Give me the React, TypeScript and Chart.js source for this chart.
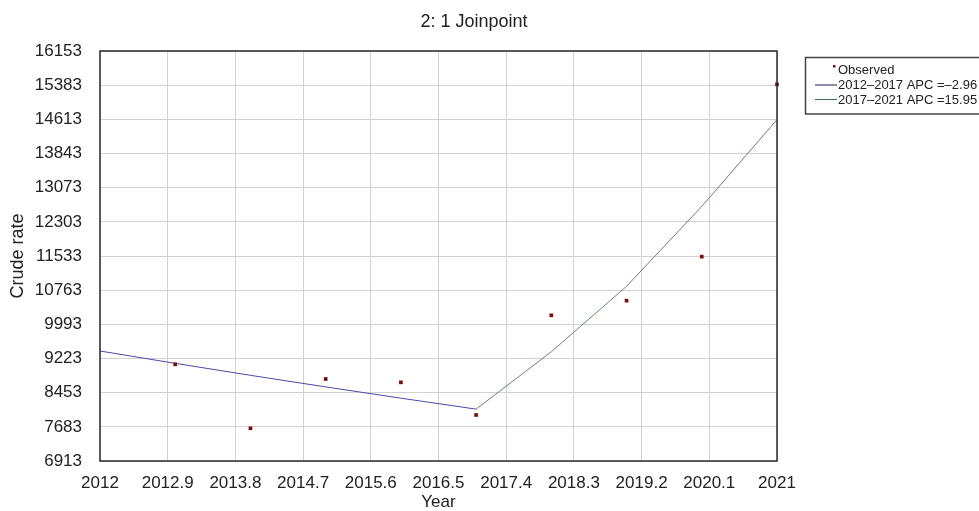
import { useEffect, useRef } from 'react';
import { Chart, registerables } from 'chart.js';

Chart.register(...registerables);

const chartTitle = '2: 1 Joinpoint';
const xTicks = [2012, 2012.9, 2013.8, 2014.7, 2015.6, 2016.5, 2017.4, 2018.3, 2019.2, 2020.1, 2021];
const yTicks = [6913, 7683, 8453, 9223, 9993, 10763, 11533, 12303, 13073, 13843, 14613, 15383, 16153];

const obsYears = [2013, 2014, 2015, 2016, 2017, 2018, 2019, 2020, 2021];
const obsValues = [9092, 7650, 8761, 8686, 7950, 10196, 10526, 11518, 15400];

const seg1Years = [2012, 2013, 2014, 2015, 2016, 2017];
const seg1Values = [9392, 9114, 8844, 8583, 8329, 8082];

const seg2Years = [2017, 2018, 2019, 2020, 2021];
const seg2Values = [8082, 9375, 10850, 12650, 14605];

const legendLabels = ['Observed', '2012\u20132017 APC =\u20132.96', '2017\u20132021 APC =15.95'];
const obsColor = '#7a0c0c';
const seg1Color = '#4a4aa8';
const seg2Color = '#5f8a5f';
const seg1LegendColor = '#1c1c60';
const seg2LegendColor = '#3f6a4a';

const FONT = '"Liberation Sans", Arial, Helvetica, sans-serif';

const overlayPlugin = {
  id: 'overlay',
  afterDraw(chart: any) {
    const ctx = chart.ctx as CanvasRenderingContext2D;
    const ca = chart.chartArea;
    ctx.save();
    // plot border
    ctx.strokeStyle = '#2a2a2a';
    ctx.lineWidth = 1.5;
    ctx.strokeRect(ca.left, ca.top, ca.right - ca.left, ca.bottom - ca.top);
    // title
    ctx.fillStyle = '#222';
    ctx.font = `18px ${FONT}`;
    ctx.textAlign = 'center';
    ctx.textBaseline = 'middle';
    ctx.fillText(chartTitle, 474, 22);
    // legend box
    ctx.strokeStyle = '#444';
    ctx.lineWidth = 1.5;
    ctx.strokeRect(805.5, 57.5, 200, 56.5);
    ctx.font = `13px ${FONT}`;
    ctx.textAlign = 'left';
    const rows = [70, 85.5, 100];
    ctx.fillStyle = obsColor;
    ctx.fillRect(833, 65, 2.5, 2.5);
    ctx.fillStyle = '#222';
    ctx.fillText(legendLabels[0], 838, rows[0]);
    ctx.lineWidth = 1;
    ctx.strokeStyle = seg1LegendColor;
    ctx.beginPath();
    ctx.moveTo(815, rows[1] - 0.5);
    ctx.lineTo(837, rows[1] - 0.5);
    ctx.stroke();
    ctx.fillText(legendLabels[1], 838, rows[1]);
    ctx.strokeStyle = seg2LegendColor;
    ctx.beginPath();
    ctx.moveTo(815, rows[2] - 0.5);
    ctx.lineTo(837, rows[2] - 0.5);
    ctx.stroke();
    ctx.fillText(legendLabels[2], 838, rows[2]);
    ctx.restore();
  },
};

export default function App() {
  const ref = useRef<HTMLCanvasElement | null>(null);

  useEffect(() => {
    if (!ref.current) return;
    const chart = new Chart(ref.current, {
      type: 'line',
      data: {
        datasets: [
          {
            label: legendLabels[0],
            data: obsYears.map((x, i) => ({ x, y: obsValues[i] })),
            showLine: false,
            pointStyle: 'rect',
            pointRadius: 2.6,
            pointBackgroundColor: obsColor,
            pointBorderWidth: 0,
            clip: false as any,
          },
          {
            label: legendLabels[1],
            data: seg1Years.map((x, i) => ({ x, y: seg1Values[i] })),
            borderColor: seg1Color,
            borderWidth: 1,
            pointRadius: 0,
            tension: 0,
          },
          {
            label: legendLabels[2],
            data: seg2Years.map((x, i) => ({ x, y: seg2Values[i] })),
            borderColor: seg2Color,
            borderWidth: 1,
            pointRadius: 0,
            tension: 0,
          },
        ],
      },
      options: {
        animation: false,
        responsive: false,
        layout: { padding: { top: 51, right: 202, bottom: 0, left: 0 } },
        plugins: {
          legend: { display: false },
          title: { display: false },
          tooltip: { enabled: false },
        },
        scales: {
          x: {
            type: 'linear',
            min: 2012,
            max: 2021,
            afterBuildTicks: (s: any) => {
              s.ticks = xTicks.map((v) => ({ value: v }));
            },
            afterFit: (s: any) => {
              s.height = 50;
            },
            ticks: {
              autoSkip: false,
              maxRotation: 0,
              padding: 12,
              color: '#222',
              font: { family: FONT, size: 17 },
              callback: (v: any) => String(v),
            },
            grid: { color: '#d2d2d2', drawTicks: false, lineWidth: 1 },
            border: { display: false },
            title: {
              display: true,
              text: 'Year',
              color: '#222',
              font: { family: FONT, size: 17, lineHeight: 1.0 },
              padding: { top: 0, bottom: 0 },
            },
          },
          y: {
            type: 'linear',
            min: 6913,
            max: 16153,
            afterBuildTicks: (s: any) => {
              s.ticks = yTicks.map((v) => ({ value: v }));
            },
            afterFit: (s: any) => {
              s.width = 100;
            },
            ticks: {
              padding: 18,
              color: '#222',
              font: { family: FONT, size: 17 },
              callback: (v: any) => String(v),
            },
            grid: { color: '#d2d2d2', drawTicks: false, lineWidth: 1 },
            border: { display: false },
            title: {
              display: true,
              text: 'Crude rate',
              color: '#222',
              font: { family: FONT, size: 18 },
              padding: { top: 7, bottom: 0 },
            },
          },
        },
      },
      plugins: [overlayPlugin],
    });
    return () => chart.destroy();
  }, []);

  return (
    <div style={{ position: 'fixed', left: 0, top: 0, width: 979, height: 511, background: '#fff' }}>
      <canvas ref={ref} width={979} height={511} style={{ display: 'block' }} />
    </div>
  );
}
